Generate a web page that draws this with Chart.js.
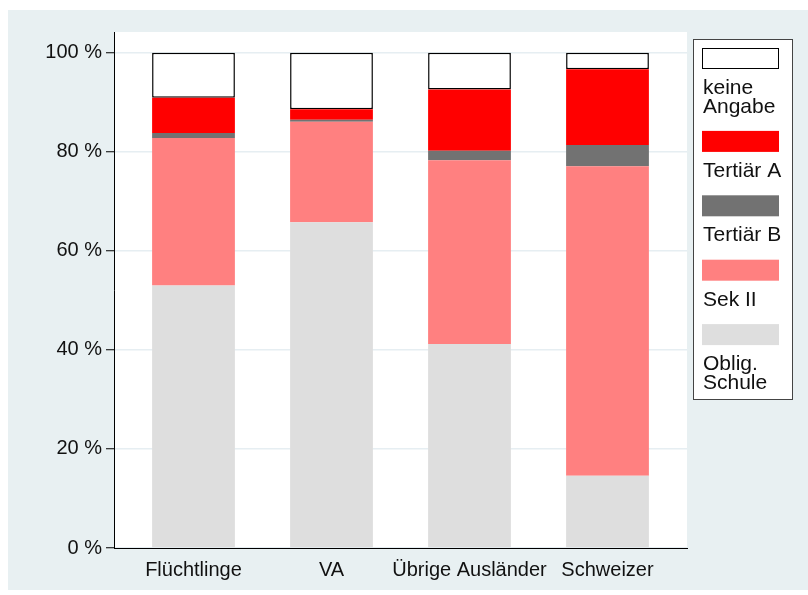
<!DOCTYPE html>
<html>
<head>
<meta charset="utf-8">
<script src="https://cdn.jsdelivr.net/npm/chart.js@4"></script>
<style>
html,body{margin:0;padding:0;background:#fff;}
#wrap{width:808px;height:595px;position:relative;}
</style>
</head>
<body>
<div id="wrap"><canvas id="c"></canvas></div>
<script>
const categories = ["Flüchtlinge", "VA", "Übrige Ausländer", "Schweizer"];
const obligSchule = [53.0, 65.8, 41.2, 14.6];
const sekII      = [29.8, 20.3, 37.1, 62.5];
const tertiaerB  = [1.0, 0.4, 1.9, 4.3];
const tertiaerA  = [7.1, 2.1, 12.4, 15.3];
const keineAngabe= [9.1, 11.4, 7.4, 3.3];
const yTicks = [0, 20, 40, 60, 80, 100];

const seriesDefs = [
  {label: "Oblig.\nSchule", data: obligSchule, color: "#dedede"},
  {label: "Sek II", data: sekII, color: "#ff8080"},
  {label: "Tertiär B", data: tertiaerB, color: "#727272"},
  {label: "Tertiär A", data: tertiaerA, color: "#ff0000"},
  {label: "keine\nAngabe", data: keineAngabe, color: "#ffffff", border: "#000000"}
];

const FONT = "'Liberation Sans', Arial, sans-serif";

const datasets = seriesDefs.map(s => ({
  label: s.label,
  data: s.data.map((v, i) => ({x: i + 1, y: v})),
  backgroundColor: s.color,
  borderColor: s.border || s.color,
  borderWidth: s.border ? 1.5 : 0,
  borderSkipped: false,
  barPercentage: 0.6,
  categoryPercentage: 1.0
}));

const bgPlugin = {
  id: 'bg',
  beforeDraw(chart) {
    const ctx = chart.ctx, a = chart.chartArea;
    ctx.save();
    ctx.fillStyle = '#ffffff';
    ctx.fillRect(0, 0, chart.width, chart.height);
    ctx.fillStyle = '#e8f0f2';
    ctx.fillRect(8, 10, chart.width - 8, 580);
    ctx.fillStyle = '#ffffff';
    ctx.fillRect(a.left, a.top, a.right - a.left, a.bottom - a.top);
    ctx.restore();
  }
};

const legendPlugin = {
  id: 'customLegend',
  afterDraw(chart) {
    const ctx = chart.ctx;
    ctx.save();
    ctx.fillStyle = '#ffffff';
    ctx.fillRect(693, 39, 99, 360);
    ctx.strokeStyle = '#444444';
    ctx.lineWidth = 1;
    ctx.strokeRect(693.5, 39.5, 99, 360);
    const items = seriesDefs.slice().reverse();
    ctx.font = "21px " + FONT;
    ctx.textBaseline = 'alphabetic';
    ctx.textAlign = 'left';
    let top = 48;
    items.forEach((s) => {
      ctx.fillStyle = s.color;
      ctx.fillRect(702, top, 77, 21);
      if (s.border) {
        ctx.strokeStyle = s.border;
        ctx.lineWidth = 1;
        ctx.strokeRect(702.5, top + 0.5, 76, 20);
      }
      ctx.fillStyle = '#111111';
      let base = top + 21 + 25;
      s.label.split('\n').forEach((line, j) => {
        if (j > 0) base += 18.5;
        ctx.fillText(line, 703, base);
      });
      top = base + 18.4;
    });
    ctx.restore();
  }
};

new Chart(document.getElementById('c'), {
  type: 'bar',
  data: {datasets},
  plugins: [bgPlugin, legendPlugin],
  options: {
    responsive: true,
    maintainAspectRatio: false,
    animation: false,
    layout: {padding: {top: 32, right: 121, left: 0, bottom: 0}},
    plugins: {legend: {display: false}, tooltip: {enabled: false}},
    scales: {
      x: {
        type: 'linear',
        stacked: true,
        offset: false,
        min: 1 - 79.5 / 138,
        max: 4 + 79.5 / 138,
        afterBuildTicks(scale) { scale.ticks = categories.map((c, i) => ({value: i + 1})); },
        afterFit(scale) { scale.height = 47; },
        grid: {display: false, drawTicks: false, offset: false},
        border: {display: true, color: '#000000', width: 1},
        ticks: {
          autoSkip: false,
          maxRotation: 0,
          padding: 10,
          color: '#111111',
          font: {family: FONT, size: 20},
          callback: (v) => categories[Math.round(v) - 1] || ''
        }
      },
      y: {
        type: 'linear',
        stacked: true,
        min: 0,
        max: 104.2,
        afterBuildTicks(scale) { scale.ticks = yTicks.map(v => ({value: v})); },
        afterFit(scale) { scale.width = 114; },
        grid: {color: '#e6eef2', lineWidth: 1.5, tickColor: '#000000', tickLength: 8, tickWidth: 1},
        border: {display: true, color: '#000000', width: 1},
        ticks: {
          padding: 4,
          color: '#111111',
          font: {family: FONT, size: 20},
          callback: (v) => v + ' %'
        }
      }
    }
  }
});
</script>
</body>
</html>
